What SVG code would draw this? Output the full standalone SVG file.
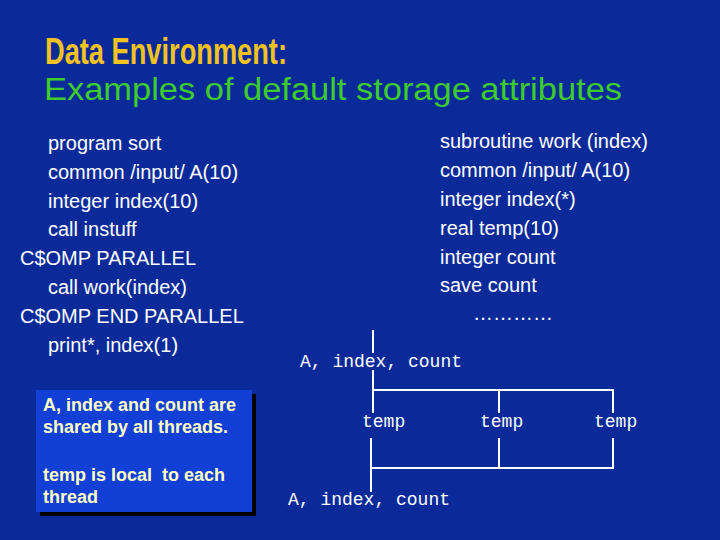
<svg xmlns="http://www.w3.org/2000/svg" width="720" height="540" viewBox="0 0 720 540">
<style>
.code{font-family:"Liberation Sans",Arial,sans-serif;font-size:20px;fill:#ffffff}
.mono{font-family:"Liberation Mono","Courier New",monospace;font-size:18px;fill:#ffffff}
.note{font-family:"Liberation Sans",Arial,sans-serif;font-size:18px;font-weight:bold;fill:#ffffc8;white-space:pre}
.ln{stroke:#ffffff;stroke-width:2;fill:none}
</style>
<rect width="720" height="540" fill="#0a2a9a"/>
<g id="title">
<text x="45" y="64" font-family="Liberation Sans,Arial,sans-serif" font-size="37" font-weight="bold" fill="#f2c21e" textLength="242" lengthAdjust="spacingAndGlyphs">Data Environment:</text>
<text x="44" y="100" font-family="Liberation Sans,Arial,sans-serif" font-size="31" fill="#3ecb2c" textLength="578" lengthAdjust="spacingAndGlyphs">Examples of default storage attributes</text>
</g>
<g id="program">
<text class="code" x="48" y="150">program sort</text>
<text class="code" x="48" y="179">common /input/ A(10)</text>
<text class="code" x="48" y="208">integer index(10)</text>
<text class="code" x="48" y="236">call instuff</text>
<text class="code" x="20" y="265">C$OMP PARALLEL</text>
<text class="code" x="48" y="294">call work(index)</text>
<text class="code" x="20" y="323">C$OMP END PARALLEL</text>
<text class="code" x="48" y="352">print*, index(1)</text>
</g>
<g id="subroutine">
<text class="code" x="440" y="148">subroutine work (index)</text>
<text class="code" x="440" y="177">common /input/ A(10)</text>
<text class="code" x="440" y="206">integer index(*)</text>
<text class="code" x="440" y="235">real temp(10)</text>
<text class="code" x="440" y="264">integer count</text>
<text class="code" x="440" y="292">save count</text>
<text class="code" x="473" y="320">…………</text>
</g>
<g id="note">
<rect x="40" y="394" width="216" height="122" fill="#000000"/>
<rect x="36" y="390" width="216" height="122" fill="#1240d6"/>
<text class="note" x="43" y="411">A, index and count are</text>
<text class="note" x="43" y="433">shared by all threads.</text>
<text class="note" x="43" y="481" xml:space="preserve">temp is local  to each</text>
<text class="note" x="43" y="503">thread</text>
</g>
<g id="shared-top"><text class="mono" x="300" y="367">A, index, count</text></g>
<g id="temp1"><text class="mono" x="362" y="427">temp</text></g>
<g id="temp2"><text class="mono" x="480" y="427">temp</text></g>
<g id="temp3"><text class="mono" x="594" y="427">temp</text></g>
<g id="shared-bottom"><text class="mono" x="288" y="505">A, index, count</text></g>
<g id="connectors">
<path class="ln" d="M373 330V353"/>
<path class="ln" d="M373 370V413"/>
<path class="ln" d="M373 390H613V413"/>
<path class="ln" d="M499 390V413"/>
<path class="ln" d="M371 438V492"/>
<path class="ln" d="M371 468H613V438"/>
<path class="ln" d="M499 438V468"/>
</g>
</svg>
